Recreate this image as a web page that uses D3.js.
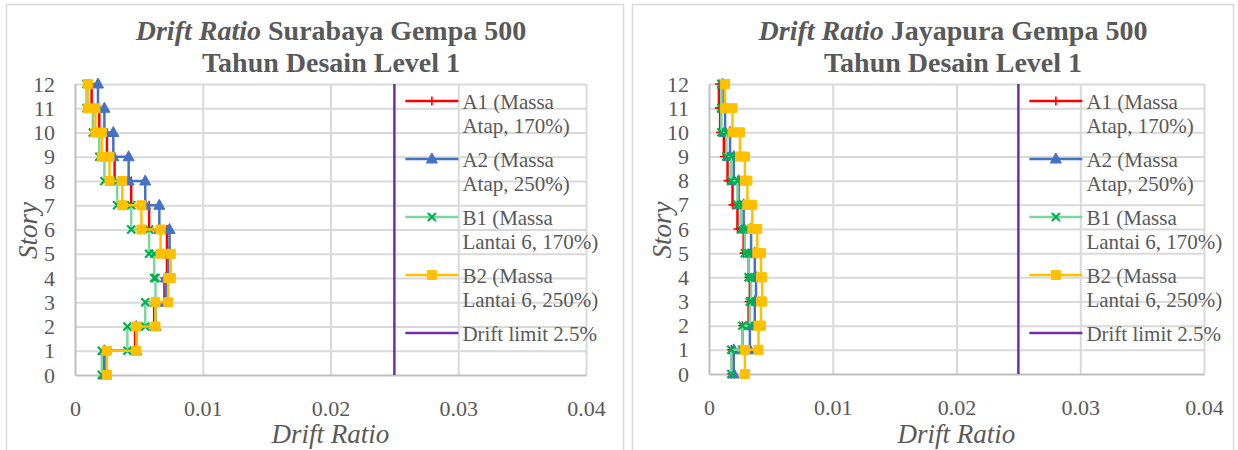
<!DOCTYPE html>
<html>
<head>
<meta charset="utf-8">
<script src="https://cdn.jsdelivr.net/npm/d3@7"></script>
<style>
  body { margin: 0; background: #fff; }
  svg text { font-family: "Liberation Serif"; fill: #595959; }
</style>
</head>
<body>
<svg id="chart" width="1238" height="450" font-family="Liberation Serif"></svg>
<script>
// ---- data ----
const storyTicks = d3.range(0, 13);
const driftTicks = [0, 0.01, 0.02, 0.03, 0.04];
const driftLimit = 0.025;

// drift ratio for each story, story 1 (index 0) up to story 12
const sbyA1 = [0.0023, 0.0047, 0.0062, 0.0070, 0.0072, 0.0072, 0.0058, 0.0044, 0.0031, 0.0025, 0.0019, 0.0013];
const sbyA2 = [0.0023, 0.0048, 0.0063, 0.0071, 0.0073, 0.0074, 0.0066, 0.0055, 0.0042, 0.0030, 0.0023, 0.0018];
const sbyB1 = [0.0021, 0.0041, 0.0055, 0.0063, 0.0062, 0.0058, 0.0044, 0.0033, 0.0023, 0.0019, 0.0014, 0.0009];
const sbyB2 = [0.0025, 0.0048, 0.0063, 0.0073, 0.0075, 0.0067, 0.0052, 0.0037, 0.0027, 0.0021, 0.0016, 0.0010];

const jypA1 = [0.0018, 0.0027, 0.0032, 0.0033, 0.0032, 0.0028, 0.0023, 0.0019, 0.0015, 0.0012, 0.0009, 0.0008];
const jypA2 = [0.0020, 0.0033, 0.0037, 0.0038, 0.0037, 0.0034, 0.0028, 0.0024, 0.0020, 0.0017, 0.0013, 0.0011];
const jypB1 = [0.0018, 0.0027, 0.0033, 0.0034, 0.0032, 0.0029, 0.0026, 0.0023, 0.0018, 0.0014, 0.0010, 0.0010];
const jypB2 = [0.0029, 0.0040, 0.0042, 0.0043, 0.0042, 0.0039, 0.0035, 0.0031, 0.0029, 0.0025, 0.0019, 0.0013];

const legendLabels = [
  ["A1 (Massa", "Atap, 170%)"],
  ["A2 (Massa", "Atap, 250%)"],
  ["B1 (Massa", "Lantai 6, 170%)"],
  ["B2 (Massa", "Lantai 6, 250%)"],
  ["Drift limit 2.5%"]
];

// ---- styles ----
const serif = "Liberation Serif";
const styles = [
  { line: "#FF0000", mark: "#FF0000", shape: "plus" },
  { line: "#4472C4", mark: "#4472C4", shape: "triangle" },
  { line: "#7DD6A2", mark: "#00B050", shape: "x" },
  { line: "#FFC000", mark: "#FFC000", shape: "square" }
];
const limitColor = "#7030A0";
const gridColor = "#D9D9D9";

const panels = [
  { city: "Surabaya", series: [sbyA1, sbyA2, sbyB1, sbyB2], box: [6.5, 632 - 15], x0: 75, x1: 586, y0: 375, y1: 84, cx: 331 },
  { city: "Jayapura", series: [jypA1, jypA2, jypB1, jypB2], box: [632.5, 1233 - 632], x0: 709, x1: 1204, y0: 374, y1: 84, cx: 953 }
];

const svg = d3.select("#chart");

function markerPath(shape) {
  if (shape === "plus") return "M-4,0H4M0,-4.5V4.5";
  if (shape === "x") return "M-4,-4L4,4M4,-4L-4,4";
  if (shape === "triangle") return "M0,-6L5.5,4H-5.5Z";
  return "M-4.5,-4.5H4.5V4.5H-4.5Z";
}

function drawMarker(g, shape, color, x, y) {
  const p = g.append("path")
    .attr("d", markerPath(shape))
    .attr("transform", `translate(${x},${y})`);
  if (shape === "plus" || shape === "x") {
    p.attr("fill", "none").attr("stroke", color).attr("stroke-width", shape === "x" ? 2.2 : 1.6);
  } else {
    p.attr("fill", color).attr("stroke", color).attr("stroke-width", 1);
  }
}

function stepPoints(vals) {
  const pts = [];
  vals.forEach((d, i) => {
    pts.push([d, i]);
    pts.push([d, i + 1]);
  });
  return pts;
}

panels.forEach(p => {
  const g = svg.append("g");

  g.append("rect")
    .attr("x", p.box[0]).attr("y", 4.5)
    .attr("width", p.box[1]).attr("height", 460)
    .attr("fill", "#fff").attr("stroke", gridColor).attr("stroke-width", 1.5);

  const x = d3.scaleLinear().domain([0, 0.04]).range([p.x0, p.x1]);
  const y = d3.scaleLinear().domain([0, 12]).range([p.y0, p.y1]);

  // gridlines
  const gridY = g.append("g")
    .attr("transform", `translate(${p.x0},0)`)
    .call(d3.axisLeft(y).tickValues(storyTicks.slice(1)).tickSize(-(p.x1 - p.x0)).tickFormat(""));
  const gridX = g.append("g")
    .attr("transform", `translate(0,${p.y0})`)
    .call(d3.axisBottom(x).tickValues(driftTicks.slice(1)).tickSize(-(p.y0 - p.y1)).tickFormat(""));
  [gridX, gridY].forEach(a => {
    a.select(".domain").remove();
    a.selectAll("line").attr("stroke", gridColor).attr("stroke-width", 2);
  });

  // axes
  const ax = g.append("g")
    .attr("transform", `translate(0,${p.y0})`)
    .call(d3.axisBottom(x).tickValues(driftTicks).tickSize(0).tickPadding(25)
      .tickFormat(d => d === 0 ? "0" : d3.format(".2f")(d)));
  const ay = g.append("g")
    .attr("transform", `translate(${p.x0},0)`)
    .call(d3.axisLeft(y).tickValues(storyTicks).tickSize(0).tickPadding(20));
  [ax, ay].forEach(a => {
    a.attr("font-family", serif).attr("font-size", 22);
    a.select(".domain").attr("stroke", "#BFBFBF").attr("stroke-width", 2);
    a.selectAll("text").attr("fill", "#595959");
  });

  // drift limit
  g.append("line")
    .attr("x1", x(driftLimit)).attr("x2", x(driftLimit))
    .attr("y1", y(0)).attr("y2", y(12))
    .attr("stroke", limitColor).attr("stroke-width", 2.5);

  // series
  const line = d3.line().x(d => x(d[0])).y(d => y(d[1]));
  p.series.forEach((vals, si) => {
    const st = styles[si];
    const pts = stepPoints(vals);
    g.append("path")
      .attr("d", line(pts))
      .attr("fill", "none")
      .attr("stroke", st.line)
      .attr("stroke-width", 2.5);
    const mg = g.append("g");
    pts.forEach(pt => drawMarker(mg, st.shape, st.mark, x(pt[0]), y(pt[1])));
  });

  // legend
  const lx = x(driftLimit) + 11;
  const lg = g.append("g");
  legendLabels.forEach((lines, i) => {
    const ly = 101 + i * 58;
    const st = styles[i];
    lg.append("line")
      .attr("x1", lx).attr("x2", lx + 53)
      .attr("y1", ly).attr("y2", ly)
      .attr("stroke", st ? st.line : limitColor)
      .attr("stroke-width", 2.5);
    if (st) drawMarker(lg, st.shape, st.mark, lx + 26.5, ly);
    const t = lg.append("text")
      .attr("x", lx + 57).attr("y", ly + 8)
      .attr("font-size", 21);
    lines.forEach((s, k) => {
      t.append("tspan").attr("x", lx + 57).attr("dy", k === 0 ? 0 : 23.5).text(s);
    });
  });

  // title
  const title = g.append("text")
    .attr("x", p.cx).attr("y", 40)
    .attr("text-anchor", "middle")
    .attr("font-size", 28).attr("font-weight", "bold");
  title.append("tspan").attr("font-style", "italic").text("Drift Ratio");
  title.append("tspan").text(` ${p.city} Gempa 500`);
  g.append("text")
    .attr("x", p.cx).attr("y", 72)
    .attr("text-anchor", "middle")
    .attr("font-size", 28).attr("font-weight", "bold")
    .text("Tahun Desain Level 1");

  // axis titles
  g.append("text")
    .attr("x", (p.x0 + p.x1) / 2).attr("y", 443)
    .attr("text-anchor", "middle")
    .attr("font-size", 27).attr("font-style", "italic")
    .text("Drift Ratio");
  g.append("text")
    .attr("transform", `translate(${p.x0 - 38},${(p.y0 + p.y1) / 2 + 1}) rotate(-90)`)
    .attr("text-anchor", "middle")
    .attr("font-size", 27).attr("font-style", "italic")
    .text("Story");
});
</script>
</body>
</html>
